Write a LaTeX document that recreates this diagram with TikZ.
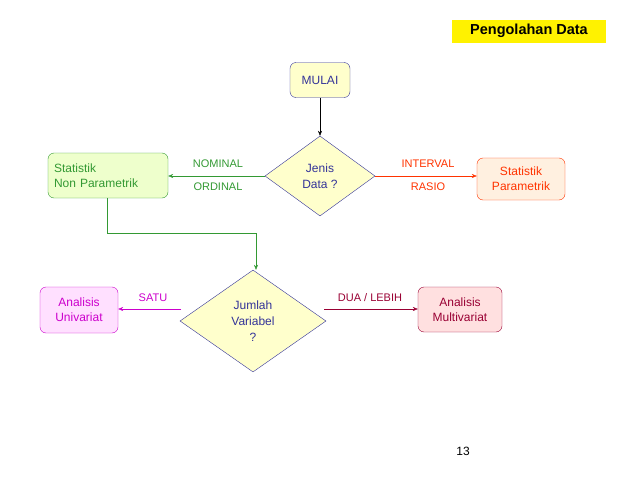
\documentclass[tikz,border=0pt]{standalone}
\usepackage{fontspec}
\setmainfont{Liberation Sans}
\usetikzlibrary{shapes.geometric,arrows.meta}
\definecolor{ly}{HTML}{FFFFCC}
\definecolor{dblue}{HTML}{333399}
\definecolor{gr}{HTML}{339933}
\definecolor{lgr}{HTML}{EEFFCC}
\definecolor{orr}{HTML}{FF3300}
\definecolor{lor}{HTML}{FFF0E0}
\definecolor{mag}{HTML}{CC00CC}
\definecolor{lmag}{HTML}{FFE0FF}
\definecolor{dred}{HTML}{990033}
\definecolor{ldred}{HTML}{FFE0E0}
\tikzset{
 box/.style={draw,rounded corners=6pt,font=\fontsize{12}{15}\selectfont,inner sep=0pt,align=center},
 dia/.style={draw=dblue,fill=ly,diamond,inner sep=0pt,font=\fontsize{12}{16}\selectfont,align=center,text=dblue},
 lbl/.style={font=\fontsize{11}{13}\selectfont},
 arr/.style={-{Stealth[length=5pt,width=4pt]}}
}
\begin{document}
\begin{tikzpicture}[x=1pt,y=-1pt]
\useasboundingbox (0,0) rectangle (638,479);
\node[fill=yellow,font=\bfseries\fontsize{14.5}{16}\selectfont,minimum width=154pt,minimum height=23pt,inner sep=0pt] (title) at (529,31) {Pengolahan Data};
\node[box,draw=dblue,fill=ly,text=dblue,minimum width=60pt,minimum height=35pt] (mulai) at (320,80) {MULAI};
\node[dia,minimum width=110pt,minimum height=80pt] (jenis) at (320,176) {Jenis\\Data ?};
\node[box,draw=gr,fill=lgr,text=gr,minimum width=120pt,minimum height=45pt,align=left,text width=108pt] (np) at (108,175.5) {Statistik\\Non Parametrik};
\node[box,draw=orr,fill=lor,text=orr,minimum width=88pt,minimum height=42pt] (p) at (521,179) {Statistik\\Parametrik};
\node[dia,minimum width=146pt,minimum height=102pt] (jumlah) at (253,321) {Jumlah\\Variabel\\?};
\node[box,draw=mag,fill=lmag,text=mag,minimum width=78pt,minimum height=46pt] (uni) at (79,310) {Analisis\\Univariat};
\node[box,draw=dred,fill=ldred,text=dred,minimum width=84pt,minimum height=45pt] (multi) at (460,309.5) {Analisis\\Multivariat};
\draw[arr] (mulai) -- (jenis.north);
\draw[arr,gr] (jenis.west) -- (np.east|-jenis.west);
\node[lbl,text=gr] (nom) at (218,164) {NOMINAL};
\node[lbl,text=gr] (ord) at (218,187) {ORDINAL};
\draw[arr,orr] (jenis.east) -- (p.west|-jenis.east);
\node[lbl,text=orr] (int) at (428,164) {INTERVAL};
\node[lbl,text=orr] (ras) at (428,187) {RASIO};
\coordinate (c1) at (107,233);
\coordinate (c2) at (256,233);
\draw[arr,gr] (np.south-|c1) -- (c1) -- (c2) -- (jumlah.north-|c2);
\coordinate (l1) at (181,309);
\coordinate (r1) at (324,309);
\draw[arr,mag] (l1) -- (uni.east|-l1);
\node[lbl,text=mag] (satu) at (153,298) {SATU};
\draw[arr,dred] (r1) -- (multi.west|-r1);
\node[lbl,text=dred] (dua) at (370,298) {DUA / LEBIH};
\node[font=\fontsize{12}{14}\selectfont] (pg) at (463,451) {13};
\end{tikzpicture}
\end{document}
